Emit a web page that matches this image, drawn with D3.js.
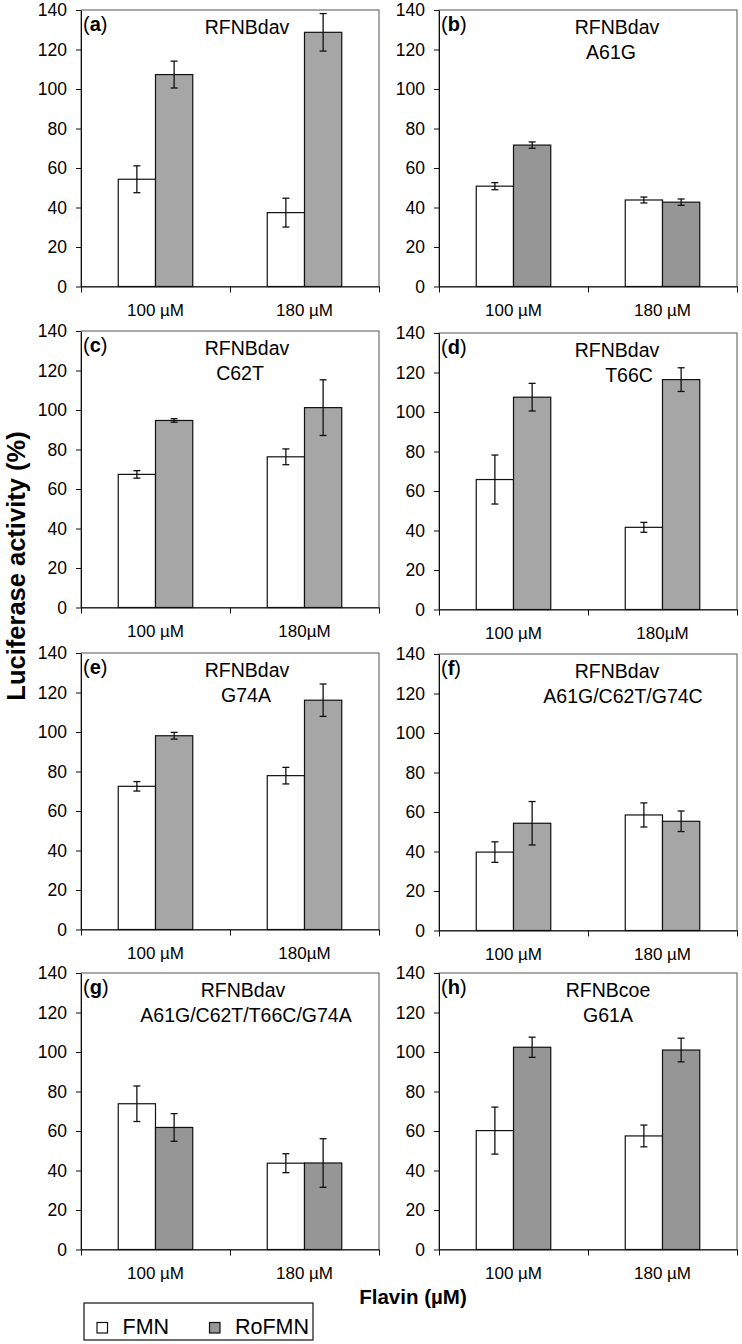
<!DOCTYPE html>
<html><head><meta charset="utf-8">
<script src="https://cdn.jsdelivr.net/npm/d3@7"></script>
<style>
body{margin:0;background:#fff}
svg{display:block}
text{font-family:Arial,"Liberation Sans",Helvetica,sans-serif;fill:#000}
</style>
</head><body>
<svg id="chart" width="742" height="1344"></svg>
<script>
// ---------- DATA ----------
const series = ["FMN", "RoFMN"];
const panelIds = ["a", "b", "c", "d", "e", "f", "g", "h"];
const panelTitles = [
  ["RFNBdav"],
  ["RFNBdav", "A61G"],
  ["RFNBdav", "C62T"],
  ["RFNBdav", "T66C"],
  ["RFNBdav", "G74A"],
  ["RFNBdav", "A61G/C62T/G74C"],
  ["RFNBdav", "A61G/C62T/T66C/G74A"],
  ["RFNBcoe", "G61A"]
];
const xLabels = [
  ["100 µM", "180 µM"],
  ["100 µM", "180 µM"],
  ["100 µM", "180µM"],
  ["100 µM", "180µM"],
  ["100 µM", "180µM"],
  ["100 µM", "180 µM"],
  ["100 µM", "180 µM"],
  ["100 µM", "180 µM"]
];
const fmnValues   = [[54.3, 37.4], [50.8, 43.8], [67.4, 76.3], [65.8, 41.6], [72.5, 77.9], [39.7, 58.5], [73.8, 43.7], [60.2, 57.5]];
const fmnErrors   = [[6.8, 7.3],   [1.8, 1.5],   [1.9, 4.0],   [12.4, 2.5],  [2.4, 4.2],   [5.2, 6.1],   [9.0, 4.8],   [11.9, 5.5]];
const rofmnValues = [[107.3, 128.7], [71.6, 42.7], [94.7, 101.2], [107.5, 116.4], [98.1, 116.1], [54.3, 55.3], [61.8, 43.8], [102.4, 101.0]];
const rofmnErrors = [[6.8, 9.5],   [1.6, 1.6],   [0.9, 14.1],  [7.0, 6.0],   [1.7, 8.2],   [11.0, 5.2],  [7.0, 12.3],  [5.1, 6.0]];
const yTicks = [0, 20, 40, 60, 80, 100, 120, 140];
const yAxisTitle = "Luciferase activity (%)";
const xAxisTitle = "Flavin (µM)";

// ---------- LAYOUT / STYLE ----------
const W = 298, H = 276.5;
const colLeft = [81, 439];
const rowTops = [[10, 331, 653, 973], [10, 333, 654, 973]];
const titleCenters = [[166], [178, 172], [166, 159], [178, 190], [166, 165], [178, 184], [162, 165], [169, 169]];
const roFill = ["#a6a6a6", "#969696", "#a6a6a6", "#a6a6a6", "#a6a6a6", "#a6a6a6", "#969696", "#969696"];
const legendRoFill = "#969696";

const svg = d3.select("#chart");
const y = d3.scaleLinear().domain([0, 140]).range([H, 0]);

panelIds.forEach((id, i) => {
  const col = i % 2, row = Math.floor(i / 2);
  const g = svg.append("g").attr("transform", `translate(${colLeft[col]},${rowTops[col][row]})`);
  const x0 = d3.scaleBand().domain(xLabels[i]).range([0, W]);
  const bw = x0.bandwidth();
  const x1 = d3.scaleBand().domain(series).range([bw * 0.25, bw * 0.75]);

  // plot frame
  g.append("rect").attr("width", W).attr("height", H)
    .attr("fill", "none").attr("stroke", "#555").attr("stroke-width", 1);

  // data
  const rows = [];
  xLabels[i].forEach((c, k) => {
    rows.push({cat: c, s: "FMN", v: fmnValues[i][k], e: fmnErrors[i][k]});
    rows.push({cat: c, s: "RoFMN", v: rofmnValues[i][k], e: rofmnErrors[i][k]});
  });

  g.selectAll("rect.bar").data(rows).join("rect")
    .attr("class", "bar")
    .attr("x", d => x0(d.cat) + x1(d.s))
    .attr("width", x1.bandwidth())
    .attr("y", d => y(d.v))
    .attr("height", d => y(0) - y(d.v))
    .attr("fill", d => d.s === "FMN" ? "#ffffff" : roFill[i])
    .attr("stroke", "#111").attr("stroke-width", 1.2);

  const eb = g.selectAll("g.err").data(rows).join("g").attr("class", "err")
    .attr("transform", d => `translate(${x0(d.cat) + x1(d.s) + x1.bandwidth() / 2},0)`)
    .attr("stroke", "#111").attr("stroke-width", 1.3);
  eb.append("line").attr("y1", d => y(d.v - d.e)).attr("y2", d => y(d.v + d.e));
  eb.append("line").attr("x1", -3.5).attr("x2", 3.5).attr("y1", d => y(d.v + d.e)).attr("y2", d => y(d.v + d.e));
  eb.append("line").attr("x1", -3.5).attr("x2", 3.5).attr("y1", d => y(d.v - d.e)).attr("y2", d => y(d.v - d.e));

  // y axis
  const ya = g.append("g").call(d3.axisLeft(y).tickValues(yTicks).tickSize(5).tickSizeOuter(0).tickPadding(9));
  ya.selectAll("text").attr("font-size", 17.5).attr("font-family", "Arial, 'Liberation Sans', sans-serif");
  ya.selectAll("line,path").attr("stroke", "#111");

  // x axis boundary ticks
  const xb = d3.scaleLinear().domain([0, xLabels[i].length]).range([0, W]);
  const xa = g.append("g").attr("transform", `translate(0,${H})`)
    .call(d3.axisBottom(xb).tickValues(d3.range(0, xLabels[i].length + 1)).tickSize(6).tickSizeOuter(0).tickFormat(""));
  xa.selectAll("line,path").attr("stroke", "#111");

  // x category labels
  const xl = g.append("g").attr("transform", `translate(0,${H})`)
    .call(d3.axisBottom(x0).tickSize(0).tickPadding(17));
  xl.select("path").remove();
  xl.selectAll("text").attr("font-size", 17).attr("font-family", "Arial, 'Liberation Sans', sans-serif");

  // panel label
  const lab = g.append("text").attr("x", 2).attr("y", 21).attr("font-size", 20);
  lab.append("tspan").text("(");
  lab.append("tspan").attr("font-weight", "bold").text(id);
  lab.append("tspan").text(")");

  // title
  g.selectAll("text.title").data(panelTitles[i]).join("text")
    .attr("class", "title")
    .attr("x", (d, k) => titleCenters[i][k])
    .attr("y", (d, k) => 24 + k * 25)
    .attr("text-anchor", "middle")
    .attr("font-size", 19.5)
    .text(d => d);
});

// axis titles
svg.append("text")
  .attr("transform", "translate(25,566) rotate(-90)")
  .attr("text-anchor", "middle")
  .attr("font-weight", "bold")
  .attr("font-size", 25.5)
  .text(yAxisTitle);

svg.append("text")
  .attr("x", 413).attr("y", 1304)
  .attr("text-anchor", "middle")
  .attr("font-weight", "bold")
  .attr("font-size", 20.5)
  .text(xAxisTitle);

// legend
const lg = svg.append("g").attr("transform", "translate(84,1303)");
lg.append("rect").attr("width", 229).attr("height", 37).attr("fill", "#fff").attr("stroke", "#111").attr("stroke-width", 1.2);
const legX = [13, 125.5];
const li = lg.selectAll("g.li").data(series).join("g").attr("class", "li")
  .attr("transform", (d, k) => `translate(${legX[k]},0)`);
li.append("rect").attr("y", 19.5).attr("width", 10.5).attr("height", 10.5)
  .attr("fill", (d, k) => k === 0 ? "#fff" : legendRoFill).attr("stroke", "#111").attr("stroke-width", 1.2);
li.append("text").attr("x", 25.5).attr("y", 30.5).attr("font-size", 21.5).text(d => d);
</script>
</body></html>
